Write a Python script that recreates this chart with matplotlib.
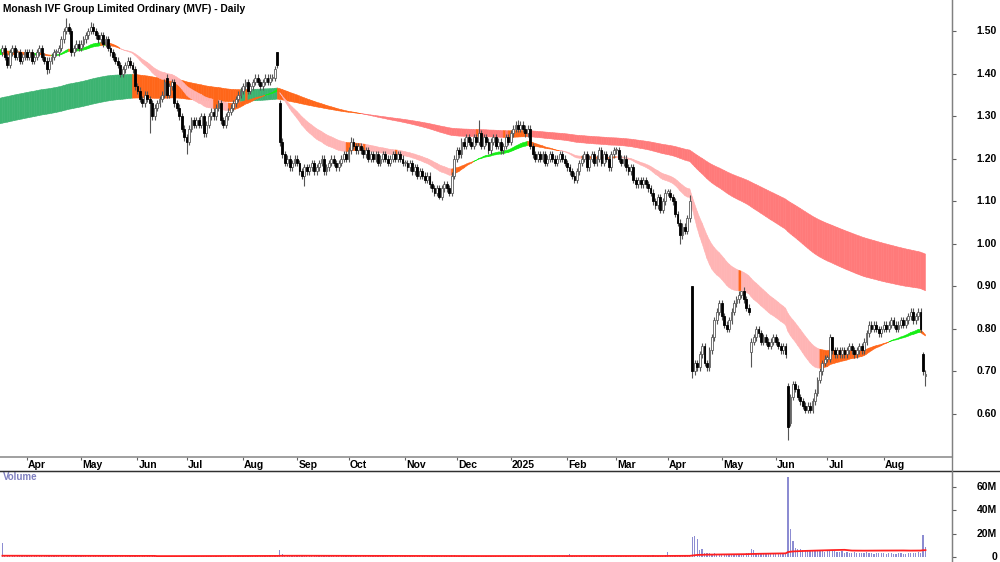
import numpy as np
import pandas as pd
import matplotlib
matplotlib.use("Agg")
import matplotlib.pyplot as plt
from matplotlib.collections import PolyCollection
from matplotlib.lines import Line2D
import matplotlib.transforms as mtransforms

plt.rcParams['font.family'] = ['Liberation Sans', 'DejaVu Sans']

TITLE = "Monash IVF Group Limited Ordinary (MVF) - Daily"
START = "2024-03-18"

# ---- daily closes (one list per month) ----
close_mar24 = [1.46, 1.44, 1.42, 1.45, 1.46, 1.44, 1.45, 1.43, 1.44, 1.45]
close_apr24 = [1.44, 1.45, 1.43, 1.44, 1.45, 1.46, 1.44, 1.43, 1.41, 1.43, 1.44,
               1.45, 1.45, 1.46, 1.48, 1.50, 1.51, 1.50, 1.45, 1.46, 1.47, 1.46]
close_may24 = [1.47, 1.48, 1.49, 1.50, 1.51, 1.50, 1.49, 1.48, 1.49, 1.47, 1.48, 1.46,
               1.45, 1.44, 1.43, 1.42, 1.40, 1.41, 1.42, 1.43, 1.42, 1.41, 1.37]
close_jun24 = [1.36, 1.34, 1.33, 1.35, 1.34, 1.33, 1.30, 1.32, 1.33, 1.34,
               1.35, 1.38, 1.35, 1.37, 1.38, 1.33, 1.32, 1.30, 1.27, 1.25]
close_jul24 = [1.24, 1.27, 1.29, 1.28, 1.29, 1.28, 1.30, 1.26, 1.28, 1.30, 1.31, 1.30,
               1.32, 1.33, 1.29, 1.28, 1.30, 1.31, 1.32, 1.33, 1.34, 1.35, 1.36]
close_aug24 = [1.37, 1.38, 1.36, 1.37, 1.38, 1.39, 1.38, 1.37, 1.38, 1.39, 1.38,
               1.39, 1.39, 1.41, 1.42, 1.24, 1.21, 1.19, 1.20, 1.18, 1.19, 1.20]
close_sep24 = [1.19, 1.17, 1.16, 1.18, 1.17, 1.18, 1.19, 1.17, 1.18, 1.19, 1.20,
               1.17, 1.18, 1.19, 1.20, 1.19, 1.18, 1.19, 1.20, 1.21, 1.20]
close_oct24 = [1.22, 1.24, 1.23, 1.22, 1.23, 1.22, 1.21, 1.22, 1.20, 1.21, 1.20, 1.21,
               1.19, 1.20, 1.21, 1.20, 1.19, 1.20, 1.21, 1.20, 1.21, 1.20, 1.19]
close_nov24 = [1.19, 1.18, 1.19, 1.17, 1.18, 1.16, 1.17, 1.16, 1.15, 1.16, 1.14,
               1.13, 1.12, 1.13, 1.11, 1.13, 1.14, 1.13, 1.12, 1.16, 1.20]
close_dec24 = [1.22, 1.21, 1.24, 1.23, 1.25, 1.24, 1.23, 1.25, 1.24, 1.26, 1.23,
               1.25, 1.24, 1.22, 1.24, 1.25, 1.23, 1.24, 1.22, 1.23, 1.25, 1.24]
close_jan25 = [1.26, 1.27, 1.28, 1.27, 1.28, 1.27, 1.26, 1.27, 1.23, 1.21, 1.20, 1.21,
               1.20, 1.21, 1.19, 1.20, 1.21, 1.20, 1.19, 1.20, 1.21, 1.20, 1.19]
close_feb25 = [1.18, 1.17, 1.16, 1.15, 1.17, 1.19, 1.20, 1.21, 1.18, 1.20,
               1.21, 1.19, 1.20, 1.22, 1.19, 1.21, 1.20, 1.18, 1.21, 1.22]
close_mar25 = [1.22, 1.20, 1.19, 1.20, 1.18, 1.17, 1.18, 1.15, 1.14, 1.15, 1.14,
               1.15, 1.14, 1.13, 1.12, 1.10, 1.09, 1.11, 1.08, 1.10, 1.12]
close_apr25 = [1.12, 1.11, 1.10, 1.07, 1.05, 1.02, 1.04, 1.03, 1.06, 1.10, 0.70,
               0.72, 0.71, 0.74, 0.76, 0.72, 0.71, 0.75, 0.78, 0.82, 0.84, 0.86]
close_may25 = [0.83, 0.81, 0.80, 0.82, 0.84, 0.86, 0.87, 0.88, 0.89, 0.87, 0.85,
               0.84, 0.77, 0.78, 0.80, 0.79, 0.77, 0.78, 0.77, 0.76, 0.77, 0.78]
close_jun25 = [0.77, 0.76, 0.75, 0.76, 0.74, 0.57, 0.64, 0.67, 0.66, 0.64, 0.63,
               0.62, 0.61, 0.62, 0.61, 0.63, 0.65, 0.68, 0.70, 0.72, 0.73]
close_jul25 = [0.73, 0.78, 0.75, 0.74, 0.75, 0.74, 0.75, 0.74, 0.75, 0.76, 0.75, 0.74,
               0.75, 0.76, 0.75, 0.77, 0.79, 0.81, 0.80, 0.81, 0.80, 0.79, 0.80]
close_aug25 = [0.81, 0.80, 0.81, 0.82, 0.81, 0.80, 0.81, 0.82, 0.81, 0.82, 0.83,
               0.84, 0.82, 0.83, 0.84, 0.80, 0.70, 0.695]

# opens default to the previous close; gap days
open_overrides = {0: 1.45, 67: 1.39, 112: 1.45, 113: 1.33, 281: 0.90, 305: 0.745,
                  320: 0.665, 321: 0.58, 337: 0.73, 375: 0.74, 376: 0.69}
high_overrides = {26: 1.53, 36: 1.52, 112: 1.45, 142: 1.25, 194: 1.29, 210: 1.29,
                  280: 1.115, 281: 0.90, 301: 0.89, 338: 0.78, 375: 0.745}
low_overrides = {18: 1.40, 60: 1.26, 75: 1.21, 113: 1.23, 123: 1.135, 178: 1.105,
                 276: 1.00, 281: 0.685, 305: 0.71, 320: 0.54, 376: 0.665}
WICK = 0.008

# ---- daily volume (millions) ----
vol_mar24 = [12.0, 1.5, 0.8, 0.6, 0.7, 0.5, 0.6, 0.8, 0.5, 0.6]
vol_apr24 = [0.6, 0.5, 0.7, 0.6, 0.5, 0.8, 0.6, 0.5, 1.0, 0.7, 0.6, 0.5, 0.6, 0.7, 0.9,
             1.1, 1.0, 0.8, 1.2, 0.7, 0.6, 0.5]
vol_may24 = [0.6, 0.7, 0.8, 0.9, 0.7, 0.6, 0.5, 0.6, 0.7, 0.6, 0.5, 0.8, 0.7, 0.9, 0.8,
             0.7, 1.1, 0.6, 0.7, 0.8, 0.6, 0.7, 1.3]
vol_jun24 = [1.0, 0.8, 0.7, 0.9, 0.8, 1.2, 1.5, 0.9, 0.8, 0.7, 0.8, 1.0, 0.9, 1.1, 1.0,
             0.9, 0.8, 1.0, 1.2, 1.1]
vol_jul24 = [0.9, 0.8, 1.0, 0.7, 0.8, 0.9, 0.7, 1.0, 0.8, 0.9, 0.7, 0.8, 0.9, 1.0, 0.8,
             0.7, 0.9, 0.8, 0.7, 0.8, 0.9, 1.0, 0.9]
vol_aug24 = [0.8, 1.1, 0.7, 0.8, 0.9, 0.7, 0.8, 0.9, 0.8, 1.0, 1.1, 1.3, 1.2, 2.0, 1.5,
             6.0, 2.5, 1.5, 1.2, 1.0, 0.9, 1.1]
vol_sep24 = [0.8, 0.7, 0.9, 0.6, 0.8, 0.7, 0.6, 0.8, 0.7, 0.9, 0.6, 0.7, 0.8, 0.6, 0.7,
             0.9, 0.8, 0.6, 0.7, 0.8, 0.7]
vol_oct24 = [0.9, 1.0, 0.8, 0.7, 0.6, 0.7, 0.8, 0.6, 0.7, 0.5, 0.6, 0.7, 0.8, 0.6, 0.5,
             0.7, 0.6, 0.8, 0.7, 0.6, 0.5, 0.7, 0.6]
vol_nov24 = [0.7, 0.6, 0.8, 0.7, 0.9, 0.8, 0.7, 0.9, 1.0, 0.8, 0.9, 1.1, 1.0, 0.9, 1.2,
             0.8, 0.9, 0.7, 0.8, 1.3, 1.5]
vol_dec24 = [1.2, 1.0, 1.1, 0.9, 1.0, 0.8, 0.9, 1.0, 0.8, 1.2, 0.9, 0.8, 0.7, 0.9, 0.8,
             0.7, 0.6, 0.5, 0.6, 0.7, 0.8, 0.6]
vol_jan25 = [0.7, 0.8, 0.9, 0.7, 0.8, 0.6, 0.7, 0.8, 1.6, 1.2, 1.0, 0.8, 0.9, 0.7, 0.8,
             1.0, 0.7, 0.6, 0.8, 0.7, 0.6, 0.8, 0.7]
vol_feb25 = [0.9, 2.2, 1.0, 1.1, 0.8, 0.7, 0.9, 0.8, 0.6, 0.7, 0.8, 0.6, 0.7, 0.8, 0.9,
             0.7, 0.6, 0.8, 0.7, 0.6]
vol_mar25 = [0.8, 0.7, 0.6, 0.9, 0.8, 0.7, 1.0, 0.9, 0.8, 0.7, 0.9, 1.2, 1.0, 0.8, 1.1,
             1.3, 1.0, 0.9, 1.1, 0.8, 1.4]
vol_apr25 = [4.5, 1.0, 1.1, 1.3, 1.2, 1.5, 1.5, 1.6, 1.4, 1.8, 17.0, 18.0, 15.5, 6.0,
             7.0, 3.5, 3.0, 3.2, 2.8, 3.0, 2.6, 2.5]
vol_may25 = [2.4, 2.2, 2.0, 2.5, 2.3, 2.6, 2.1, 2.4, 2.2, 2.8, 3.0, 3.2, 7.0, 6.0, 3.5,
             3.0, 2.6, 2.8, 2.5, 2.7, 3.0, 2.9]
vol_jun25 = [3.1, 2.8, 3.0, 3.3, 3.5, 69.0, 24.0, 14.0, 8.0, 6.5, 7.0, 6.0, 5.5, 6.0,
             5.0, 5.5, 4.8, 5.0, 6.2, 5.5, 4.5]
vol_jul25 = [4.8, 5.5, 6.0, 5.0, 4.5, 4.0, 5.5, 3.5, 4.0, 3.0, 3.5, 4.2, 3.0, 3.5, 3.2,
             3.8, 4.5, 3.6, 3.0, 2.8, 3.2, 3.4, 3.0]
vol_aug25 = [3.2, 2.8, 3.0, 3.5, 2.9, 2.6, 3.0, 3.3, 2.7, 2.8, 3.1, 3.4, 3.0, 3.6, 4.0,
             3.8, 19.0, 9.0]

# ribbon settings (EMA periods, starting levels read at the left edge)
SHORT_PERIODS = (30, 45)
SHORT_SEED = (1.456, 1.444)
LONG_PERIODS = (155, 250)
LONG_SEED = (1.342, 1.282)
VOL_MA = 63
VOL_MA_SEED = 0.9   # average volume level (M) before the first bar, read at the left edge

price_ticks = [0.60, 0.70, 0.80, 0.90, 1.00, 1.10, 1.20, 1.30, 1.40, 1.50]
vol_ticks = [0, 20, 40, 60]
vol_tick_labels = ["0", "20M", "40M", "60M"]

# ---------------------------------------------------------------
closes = np.array(close_mar24 + close_apr24 + close_may24 + close_jun24 + close_jul24 +
                  close_aug24 + close_sep24 + close_oct24 + close_nov24 + close_dec24 +
                  close_jan25 + close_feb25 + close_mar25 + close_apr25 + close_may25 +
                  close_jun25 + close_jul25 + close_aug25)
volumes = np.array(vol_mar24 + vol_apr24 + vol_may24 + vol_jun24 + vol_jul24 + vol_aug24 +
                   vol_sep24 + vol_oct24 + vol_nov24 + vol_dec24 + vol_jan25 + vol_feb25 +
                   vol_mar25 + vol_apr25 + vol_may25 + vol_jun25 + vol_jul25 + vol_aug25)
N = len(closes)
dates = pd.bdate_range(START, periods=N)
x = np.arange(N)

opens = np.concatenate([[closes[0]], closes[:-1]])
for k, v in open_overrides.items():
    opens[k] = v
highs = np.maximum(opens, closes) + WICK
lows = np.minimum(opens, closes) - WICK
for k, v in high_overrides.items():
    highs[k] = v
for k, v in low_overrides.items():
    lows[k] = v


def ema(values, period, seed):
    a = 2.0 / (period + 1)
    out = np.empty(len(values))
    prev = seed
    for i, v in enumerate(values):
        prev = prev + a * (v - prev)
        out[i] = prev
    return out


def ribbon(ax, periods, seed, c_up, c_mid, c_down, z):
    fast = ema(closes, periods[0], seed[0])
    slow = ema(closes, periods[1], seed[1])
    fx = np.concatenate([[-1], x])
    f = np.concatenate([[seed[0]], fast])
    s = np.concatenate([[seed[1]], slow])
    verts, cols = [], []
    for i in range(1, len(fx)):
        up = f[i] > s[i]
        rising = f[i] >= f[i - 1]
        if up and rising:
            c = c_up
        elif (not up) and (not rising):
            c = c_down
        else:
            c = c_mid
        verts.append([(fx[i - 1], f[i - 1]), (fx[i], f[i]), (fx[i], s[i]), (fx[i - 1], s[i - 1])])
        cols.append(c)
    pc = PolyCollection(verts, facecolors=cols, edgecolors=cols, linewidths=0.4, zorder=z)
    ax.add_collection(pc)


W, H = 1000, 562


def rect(x0, y0, x1, y1):
    return [x0 / W, 1 - y1 / H, (x1 - x0) / W, (y1 - y0) / H]


fig = plt.figure(figsize=(10, 5.62), dpi=100)
ax = fig.add_axes(rect(0, 0, 952, 457))
axd = fig.add_axes(rect(0, 457, 952, 471))
axv = fig.add_axes(rect(0, 471, 952, 562))

xmin, xmax = -0.98, 386.8
P_TOP, P_BOT = 1.5728, 0.4991
for a in (ax, axd, axv):
    a.set_xlim(xmin, xmax)
    a.set_facecolor('white')
ax.set_ylim(P_BOT, P_TOP)

# ribbons
ribbon(ax, LONG_PERIODS, LONG_SEED, '#3cb371', '#ff6619', '#ff7a7a', 1)
ribbon(ax, SHORT_PERIODS, SHORT_SEED, '#12ee12', '#ff6619', '#ffb4b4', 2)

# candles
up = closes >= opens
ax.vlines(x, lows, highs, colors='#555555', linewidth=0.8, zorder=3)
body_lo = np.minimum(opens, closes)
body_h = np.maximum(np.abs(closes - opens), 0.003)
ax.bar(x[up], body_h[up], bottom=body_lo[up], width=0.75, color='white',
       edgecolor='#5a5a5a', linewidth=0.6, zorder=4)
ax.bar(x[~up], body_h[~up], bottom=body_lo[~up], width=0.75, color='black',
       edgecolor='black', linewidth=0.6, zorder=4)

# price axis
for s in ['left', 'top', 'bottom']:
    ax.spines[s].set_visible(False)
ax.spines['right'].set_color('#808080')
ax.set_xticks([])
ax.yaxis.tick_right()
ax.set_yticks(price_ticks)
ax.tick_params(axis='y', length=3, color='#606060', labelright=False)
blend = mtransforms.blended_transform_factory(ax.transAxes, ax.transData)
for p in price_ticks:
    ax.text(997 / 952, p, f"{p:.2f}", transform=blend, ha='right', va='center',
            fontsize=7.5, fontweight='bold', clip_on=False)

# date band
for s in axd.spines.values():
    s.set_visible(False)
axd.set_xticks([])
axd.set_yticks([])
axd.set_ylim(0, 1)
month_starts = pd.Series(x, index=dates).groupby([dates.year, dates.month]).first()
for (yy, mm), idx in month_starts.items():
    if yy == 2024 and mm == 3:
        continue
    lab = str(yy) if mm == 1 else pd.Timestamp(year=yy, month=mm, day=1).strftime('%b')
    axd.vlines(idx, 0.78, 1.0, color='#606060', linewidth=0.8)
    axd.text(idx + 0.5, 0.42, lab, ha='left', va='center', fontsize=7.5, fontweight='bold')

# volume
padded = np.concatenate([np.full(VOL_MA - 1, VOL_MA_SEED), volumes])
vmm = pd.Series(padded).rolling(VOL_MA).mean().values[VOL_MA - 1:]
axv.bar(x, volumes, width=0.5, color='#8c8cd2', zorder=2)
axv.plot(x, vmm, color='#ff2020', linewidth=1.3, zorder=3)
axv.set_ylim(-4.3, 73.8)
for s in ['left', 'bottom']:
    axv.spines[s].set_visible(False)
axv.spines['top'].set_color('#303030')
axv.spines['right'].set_color('#808080')
axv.set_xticks([])
axv.yaxis.tick_right()
axv.set_yticks(vol_ticks)
axv.tick_params(axis='y', length=3, color='#606060', labelright=False)
blendv = mtransforms.blended_transform_factory(axv.transAxes, axv.transData)
for v, lab in zip(vol_ticks, vol_tick_labels):
    axv.text(997 / 952, v, lab, transform=blendv, ha='right', va='center',
             fontsize=7.5, fontweight='bold', clip_on=False)
axv.text(3 / 952, 0.93, "Volume", transform=axv.transAxes, ha='left', va='center',
         fontsize=7, fontweight='bold', color='#8080c0')

# frame lines
fig.add_artist(Line2D([0, 952 / W], [1 - 457 / H] * 2, color='#909090', linewidth=1.2))
fig.add_artist(Line2D([0, 1], [1 - 471 / H] * 2, color='#303030', linewidth=1.0))
fig.add_artist(Line2D([952 / W] * 2, [0, 1], color='#808080', linewidth=1.0))

fig.text(3 / W, 1 - 8.5 / H, TITLE, ha='left', va='center', fontsize=7.4, fontweight='bold')

fig.savefig("out.png", dpi=100, facecolor='white')
